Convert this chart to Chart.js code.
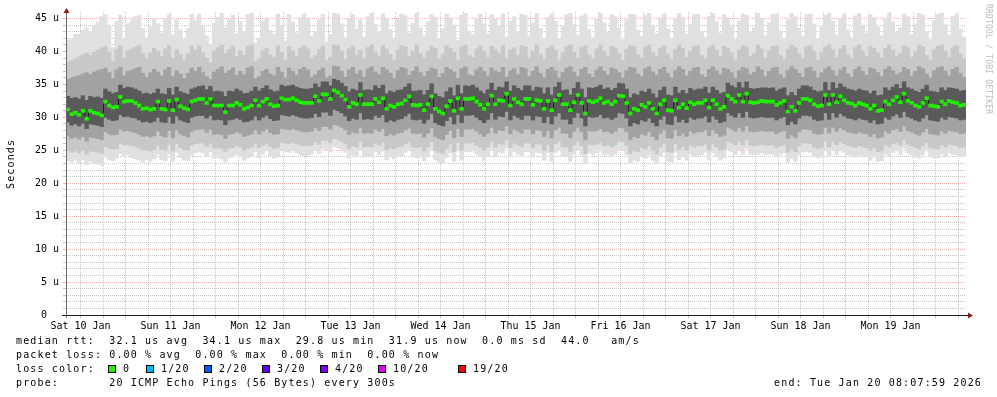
<!DOCTYPE html>
<html>
<head>
<meta charset="utf-8">
<script src="https://cdn.jsdelivr.net/npm/chart.js@4.4.0/dist/chart.umd.min.js"></script>
<style>
html, body { margin: 0; padding: 0; background: #fff; }
#wrap { position: relative; width: 997px; height: 397px; overflow: hidden; }
canvas { position: absolute; left: 0; top: 0; }
.t { position: absolute; font-family: "DejaVu Sans Mono", monospace; font-size: 10px; letter-spacing: 1.15px; line-height: 14px; white-space: pre; color: #000; }
.box { position: absolute; width: 6px; height: 6px; border: 1px solid #000; top: 365px; }
</style>
</head>
<body>
<div id="wrap">
  <canvas id="smoke" width="997" height="397"></canvas>
  <div class="t" style="left:4px;top:189px;transform:rotate(-90deg);transform-origin:0 0;">Seconds</div>
  <div class="t" style="left:993px;top:4px;transform:rotate(90deg);transform-origin:0 0;font-size:8px;letter-spacing:0.2px;line-height:9px;color:#bbb;">RRDTOOL / TOBI OETIKER</div>
  <div class="t" style="left:16px;top:334px">median rtt:  32.1 us avg  34.1 us max  29.8 us min  31.9 us now  0.0 ms sd  44.0   am/s</div>
  <div class="t" style="left:16px;top:348px">packet loss: 0.00 % avg  0.00 % max  0.00 % min  0.00 % now</div>
  <div class="t" style="left:16px;top:362px">loss color:</div>
  <div id="lossLegend"></div>
  <div class="t" style="left:16px;top:376px">probe:       20 ICMP Echo Pings (56 Bytes) every 300s</div>
  <div class="t" style="right:15px;top:376px">end: Tue Jan 20 08:07:59 2026</div>
</div>
<script>
// hourly columns, first one starts Sat 10 Jan 08:08
const medianRtt = [
  31.2, 30.5, 30.7, 30.4, 31.0, 29.8, 31.0, 30.7, 30.6, 30.3, 32.4, 31.8, 31.5, 31.6, 33.1, 32.4, 32.5, 32.5, 32.2, 31.8, 31.3, 31.4, 31.2, 31.3,
  32.4, 31.3, 31.2, 32.5, 31.1, 32.7, 31.7, 31.4, 31.2, 32.4, 32.6, 32.8, 32.8, 32.2, 32.8, 31.8, 31.8, 31.8, 30.8, 31.8, 31.8, 32.2, 31.9, 31.3,
  31.5, 31.8, 32.6, 31.8, 32.4, 32.8, 32.0, 31.7, 31.8, 32.9, 32.7, 32.7, 32.9, 32.6, 32.3, 32.2, 32.2, 32.2, 33.2, 32.5, 33.5, 33.5, 32.8, 34.1,
  33.8, 33.3, 32.7, 31.6, 32.2, 32.0, 33.4, 32.0, 32.0, 32.0, 32.8, 32.3, 32.9, 31.3, 31.8, 31.6, 32.0, 32.1, 32.6, 33.2, 31.9, 31.8, 31.9, 31.1,
  32.0, 33.2, 31.3, 30.9, 30.6, 31.7, 32.5, 31.0, 32.9, 31.3, 32.8, 32.8, 32.9, 32.4, 31.9, 31.3, 32.0, 33.3, 32.0, 32.6, 32.5, 33.6, 31.8, 32.8,
  32.3, 32.0, 32.8, 32.8, 31.9, 32.6, 32.5, 31.3, 32.5, 31.1, 32.6, 33.4, 32.0, 32.0, 31.1, 32.3, 33.4, 32.2, 30.6, 32.5, 32.3, 32.5, 32.9, 32.2,
  32.4, 32.0, 32.4, 33.3, 33.2, 32.2, 30.6, 31.3, 31.1, 31.9, 31.6, 32.2, 31.3, 30.6, 32.0, 32.6, 31.1, 31.0, 32.6, 31.5, 32.0, 31.4, 32.3, 32.0,
  32.2, 32.2, 32.6, 31.5, 32.6, 32.0, 31.3, 31.6, 33.3, 32.8, 32.4, 33.4, 32.4, 33.6, 32.3, 32.2, 32.3, 32.5, 32.4, 32.4, 32.4, 31.9, 32.2, 32.5,
  30.9, 31.6, 31.0, 32.2, 32.8, 32.8, 32.6, 32.0, 31.7, 31.8, 33.4, 32.0, 33.4, 32.3, 33.2, 32.6, 32.2, 32.1, 31.8, 32.2, 32.0, 31.8, 31.3, 31.8,
  31.0, 31.1, 32.4, 32.0, 32.6, 33.1, 32.3, 33.6, 32.5, 32.2, 31.8, 31.6, 32.2, 32.9, 31.8, 31.7, 31.6, 32.4, 32.0, 32.5, 32.3, 32.2, 31.8, 31.9
];

// smoke: slowest ping and three inner ping levels above the median
const smokeMax = [
  41.8, 41.8, 42.6, 42.6, 43.2, 43.6, 43.0, 43.9, 44.5, 45.3, 45.6, 44.0, 40.6, 44.6, 45.5, 42.0, 44.2, 44.8, 45.3, 45.5, 43.5, 42.1, 43.8, 45.0,
  44.2, 42.8, 45.0, 45.6, 42.5, 44.8, 43.3, 41.9, 43.5, 45.6, 44.7, 45.7, 43.8, 42.4, 41.0, 44.3, 45.2, 45.8, 43.6, 44.9, 45.5, 42.7, 44.6, 43.1,
  45.6, 45.8, 41.3, 42.0, 44.6, 45.1, 43.2, 42.6, 45.7, 43.9, 41.6, 45.6, 44.5, 42.8, 45.2, 45.7, 45.1, 42.3, 43.0, 44.8, 45.6, 41.5, 42.6, 45.8,
  45.7, 44.2, 42.1, 45.0, 45.6, 43.4, 44.8, 42.2, 45.3, 45.8, 44.1, 42.9, 45.7, 45.0, 43.3, 41.8, 44.9, 45.7, 45.4, 42.8, 44.3, 45.8, 43.6, 42.4,
  44.5, 45.6, 45.2, 42.0, 43.5, 45.7, 45.1, 44.0, 41.7, 45.5, 45.8, 43.1, 42.6, 45.0, 45.7, 44.2, 42.7, 45.6, 44.9, 43.8, 45.7, 42.2, 44.6, 45.3,
  43.0, 45.7, 45.5, 42.4, 44.3, 45.8, 43.5, 42.0, 45.2, 45.7, 44.6, 41.9, 43.8, 45.6, 45.8, 44.0, 42.5, 45.4, 45.7, 43.3, 42.1, 45.0, 45.8, 44.4,
  42.9, 45.6, 45.3, 43.6, 41.8, 44.8, 45.7, 45.6, 43.2, 42.3, 45.5, 45.8, 44.0, 42.7, 45.1, 45.7, 43.4, 41.9, 44.9, 45.8, 45.2, 42.6, 44.1, 45.6,
  45.7, 43.0, 42.2, 45.3, 45.8, 44.5, 42.8, 45.6, 45.1, 43.7, 41.8, 44.7, 45.7, 45.5, 42.9, 43.6, 45.8, 45.0, 42.4, 44.4, 45.6, 45.7, 43.1, 42.0,
  44.8, 45.8, 45.3, 43.5, 42.3, 45.6, 45.7, 44.2, 41.9, 43.8, 45.5, 45.8, 44.6, 42.5, 45.0, 45.7, 43.3, 42.1, 45.4, 45.8, 44.0, 42.8, 45.6, 45.2,
  43.7, 42.4, 45.1, 45.8, 44.5, 42.9, 43.6, 45.7, 45.3, 42.6, 44.2, 45.8, 45.5, 43.0, 41.8, 44.7, 45.6, 45.8, 44.1, 42.5, 45.3, 45.7, 43.4, 42.2
];
const smokeHi2 = [
  38.4, 38.6, 38.9, 39.2, 39.5, 39.8, 39.4, 39.9, 40.2, 40.6, 40.8, 39.9, 38.5, 40.3, 40.9, 39.0, 40.1, 40.4, 40.7, 40.9, 39.7, 38.9, 39.8, 40.5,
  40.0, 39.2, 40.4, 40.9, 39.0, 40.3, 39.6, 38.6, 39.7, 40.8, 40.2, 40.9, 39.8, 39.0, 38.3, 40.0, 40.6, 41.0, 39.7, 40.3, 40.8, 39.2, 40.1, 39.4,
  40.8, 41.0, 38.5, 38.9, 40.1, 40.5, 39.5, 39.1, 40.9, 39.9, 38.7, 40.8, 40.1, 39.2, 40.5, 40.9, 40.4, 38.9, 39.4, 40.3, 40.8, 38.6, 39.1, 41.0,
  40.9, 40.0, 38.8, 40.4, 40.8, 39.5, 40.2, 38.9, 40.6, 41.0, 39.9, 39.3, 40.9, 40.4, 39.6, 38.6, 40.3, 40.9, 40.7, 39.2, 40.0, 41.0, 39.7, 39.0,
  40.1, 40.8, 40.5, 38.8, 39.6, 40.9, 40.5, 39.9, 38.6, 40.7, 41.0, 39.4, 39.1, 40.4, 40.9, 40.0, 39.1, 40.8, 40.3, 39.8, 40.9, 38.9, 40.2, 40.6,
  39.4, 40.9, 40.7, 39.0, 40.0, 41.0, 39.6, 38.8, 40.5, 40.9, 40.2, 38.7, 39.8, 40.8, 41.0, 39.9, 39.0, 40.6, 40.9, 39.5, 38.9, 40.4, 41.0, 40.1,
  39.3, 40.8, 40.6, 39.7, 38.7, 40.3, 40.9, 40.8, 39.5, 39.0, 40.7, 41.0, 39.9, 39.2, 40.5, 40.9, 39.6, 38.8, 40.3, 41.0, 40.5, 39.1, 40.0, 40.8,
  40.9, 39.4, 38.9, 40.6, 41.0, 40.2, 39.3, 40.8, 40.5, 39.8, 38.7, 40.2, 40.9, 40.7, 39.3, 39.7, 41.0, 40.4, 39.0, 40.1, 40.8, 40.9, 39.4, 38.8,
  40.3, 41.0, 40.6, 39.6, 38.9, 40.8, 40.9, 40.0, 38.7, 39.8, 40.7, 41.0, 40.2, 39.1, 40.4, 40.9, 39.5, 38.9, 40.6, 41.0, 40.0, 39.2, 40.8, 40.5,
  39.8, 39.0, 40.5, 41.0, 40.2, 39.3, 39.7, 40.9, 40.6, 39.1, 40.0, 41.0, 40.7, 39.4, 38.7, 40.3, 40.8, 41.0, 40.0, 39.1, 40.6, 40.9, 39.6, 38.9
];
const smokeHi3 = [
  35.8, 36.0, 36.2, 36.3, 36.6, 36.8, 36.5, 36.9, 37.1, 37.3, 37.5, 36.8, 35.9, 37.2, 37.6, 36.3, 37.0, 37.2, 37.4, 37.6, 36.7, 36.1, 36.8, 37.3,
  36.9, 36.3, 37.2, 37.6, 36.2, 37.1, 36.6, 35.9, 36.7, 37.5, 37.0, 37.6, 36.8, 36.2, 35.8, 36.9, 37.3, 37.7, 36.7, 37.1, 37.5, 36.4, 37.0, 36.5,
  37.5, 37.7, 35.9, 36.2, 37.0, 37.3, 36.6, 36.3, 37.6, 36.9, 36.0, 37.5, 37.0, 36.4, 37.3, 37.6, 37.2, 36.1, 36.5, 37.1, 37.5, 36.0, 36.3, 37.8,
  37.7, 37.0, 36.1, 37.2, 37.6, 36.6, 37.1, 36.1, 37.4, 37.7, 36.9, 36.5, 37.6, 37.2, 36.7, 35.9, 37.1, 37.6, 37.4, 36.4, 37.0, 37.7, 36.8, 36.2,
  37.0, 37.5, 37.3, 36.1, 36.7, 37.6, 37.3, 36.9, 35.9, 37.4, 37.7, 36.5, 36.3, 37.2, 37.6, 37.0, 36.3, 37.5, 37.1, 36.8, 37.6, 36.1, 37.1, 37.4,
  36.5, 37.6, 37.4, 36.2, 37.0, 37.7, 36.7, 36.0, 37.3, 37.6, 37.1, 36.0, 36.8, 37.5, 37.7, 36.9, 36.2, 37.3, 37.6, 36.6, 36.1, 37.2, 37.7, 37.0,
  36.4, 37.5, 37.3, 36.8, 36.0, 37.1, 37.6, 37.5, 36.6, 36.2, 37.4, 37.7, 36.9, 36.4, 37.3, 37.6, 36.7, 36.0, 37.1, 37.7, 37.3, 36.3, 37.0, 37.5,
  37.6, 36.5, 36.1, 37.3, 37.7, 37.1, 36.5, 37.5, 37.3, 36.8, 36.0, 37.1, 37.6, 37.4, 36.5, 36.8, 37.7, 37.2, 36.2, 37.0, 37.5, 37.6, 36.5, 36.0,
  37.1, 37.7, 37.3, 36.7, 36.1, 37.5, 37.6, 37.0, 36.0, 36.8, 37.4, 37.7, 37.1, 36.3, 37.2, 37.6, 36.6, 36.1, 37.3, 37.7, 37.0, 36.4, 37.5, 37.3,
  36.8, 36.2, 37.3, 37.7, 37.1, 36.5, 36.8, 37.6, 37.3, 36.3, 37.0, 37.7, 37.4, 36.6, 36.0, 37.1, 37.5, 37.7, 37.0, 36.3, 37.3, 37.6, 36.7, 36.1
];
const smokeHi4 = [
  33.2, 32.9, 33.0, 32.8, 33.3, 32.6, 33.2, 33.0, 33.1, 32.9, 34.3, 33.9, 33.6, 33.8, 34.9, 34.4, 34.6, 34.5, 34.3, 34.0, 33.6, 33.7, 33.5, 33.7,
  34.3, 33.6, 33.5, 34.4, 33.4, 34.6, 33.9, 33.7, 33.5, 34.3, 34.5, 34.7, 34.8, 34.2, 34.7, 33.9, 34.0, 33.9, 33.2, 34.0, 33.9, 34.3, 34.0, 33.6,
  33.7, 34.0, 34.6, 34.0, 34.4, 34.8, 34.2, 33.9, 34.0, 34.9, 34.7, 34.8, 34.9, 34.6, 34.4, 34.3, 34.3, 34.4, 35.1, 34.6, 35.4, 35.4, 34.8, 35.8,
  35.6, 35.2, 34.7, 33.9, 34.3, 34.1, 35.3, 34.1, 34.2, 34.1, 34.8, 34.4, 34.9, 33.6, 34.0, 33.8, 34.1, 34.2, 34.6, 35.1, 34.0, 34.0, 34.1, 33.4,
  34.1, 35.1, 33.6, 33.2, 33.0, 33.9, 34.5, 33.3, 34.9, 33.6, 34.8, 34.7, 34.9, 34.5, 34.0, 33.6, 34.2, 35.2, 34.1, 34.6, 34.5, 35.4, 34.0, 34.8,
  34.4, 34.1, 34.8, 34.8, 34.0, 34.6, 34.5, 33.6, 34.5, 33.4, 34.6, 35.3, 34.1, 34.2, 33.4, 34.4, 35.3, 34.3, 33.0, 34.5, 34.4, 34.6, 34.9, 34.3,
  34.5, 34.1, 34.4, 35.2, 35.1, 34.3, 33.0, 33.6, 33.4, 34.0, 33.8, 34.3, 33.6, 33.0, 34.1, 34.6, 33.4, 33.3, 34.6, 33.7, 34.1, 33.6, 34.4, 34.1,
  34.3, 34.3, 34.6, 33.7, 34.6, 34.1, 33.6, 33.8, 35.2, 34.8, 34.5, 35.3, 34.5, 35.4, 34.4, 34.3, 34.4, 34.5, 34.5, 34.4, 34.5, 34.0, 34.3, 34.5,
  33.3, 33.8, 33.3, 34.3, 34.8, 34.8, 34.6, 34.1, 33.9, 34.0, 35.3, 34.1, 35.3, 34.4, 35.1, 34.6, 34.3, 34.2, 34.0, 34.3, 34.1, 34.0, 33.6, 34.0,
  33.3, 33.4, 34.5, 34.1, 34.6, 35.0, 34.4, 35.4, 34.5, 34.3, 34.0, 33.8, 34.3, 34.9, 34.0, 33.9, 33.8, 34.5, 34.1, 34.5, 34.4, 34.3, 34.0, 34.1
];

// smoke: three inner ping levels below the median and the fastest ping
const smokeLo4 = [
  29.3, 28.8, 29.0, 28.7, 29.1, 28.3, 29.0, 28.9, 28.8, 28.6, 30.0, 29.7, 29.5, 29.6, 30.4, 30.1, 30.2, 30.0, 29.9, 29.6, 29.3, 29.4, 29.2, 29.4,
  30.0, 29.3, 29.2, 30.1, 29.1, 30.2, 29.6, 29.4, 29.2, 30.0, 30.2, 30.3, 30.3, 29.9, 30.3, 29.6, 29.7, 29.6, 28.9, 29.6, 29.7, 29.9, 29.7, 29.3,
  29.4, 29.6, 30.2, 29.6, 30.0, 30.3, 29.8, 29.5, 29.6, 30.4, 30.3, 30.2, 30.4, 30.2, 30.0, 29.9, 29.9, 30.0, 30.6, 30.1, 30.8, 30.8, 30.3, 31.2,
  31.0, 30.7, 30.2, 29.5, 29.9, 29.7, 30.7, 29.7, 29.8, 29.7, 30.3, 30.0, 30.4, 29.3, 29.6, 29.4, 29.7, 29.8, 30.2, 30.6, 29.7, 29.6, 29.7, 29.1,
  29.7, 30.6, 29.2, 28.9, 28.7, 29.5, 30.1, 29.0, 30.4, 29.2, 30.3, 30.3, 30.4, 30.0, 29.6, 29.2, 29.7, 30.7, 29.7, 30.2, 30.1, 30.9, 29.6, 30.3,
  30.0, 29.7, 30.3, 30.3, 29.6, 30.2, 30.1, 29.2, 30.1, 29.0, 30.2, 30.7, 29.7, 29.7, 29.0, 30.0, 30.7, 29.9, 28.7, 30.1, 30.0, 30.1, 30.4, 29.9,
  30.0, 29.7, 30.0, 30.7, 30.6, 29.9, 28.7, 29.2, 29.0, 29.6, 29.4, 29.9, 29.2, 28.7, 29.7, 30.2, 29.0, 28.9, 30.2, 29.3, 29.7, 29.2, 30.0, 29.7,
  29.9, 29.9, 30.2, 29.3, 30.2, 29.7, 29.2, 29.4, 30.7, 30.3, 30.0, 30.7, 30.0, 30.9, 30.0, 29.9, 30.0, 30.1, 30.0, 30.0, 30.0, 29.6, 29.9, 30.1,
  28.9, 29.4, 29.0, 29.9, 30.3, 30.3, 30.2, 29.7, 29.5, 29.6, 30.7, 29.7, 30.7, 30.0, 30.6, 30.2, 29.9, 29.8, 29.6, 29.9, 29.7, 29.6, 29.2, 29.6,
  29.0, 29.1, 30.0, 29.7, 30.2, 30.5, 30.0, 30.9, 30.1, 29.9, 29.6, 29.4, 29.9, 30.4, 29.6, 29.5, 29.4, 30.0, 29.7, 30.1, 30.0, 29.9, 29.6, 29.7
];
const smokeLo3 = [
  27.2, 26.8, 27.0, 26.7, 27.1, 26.4, 27.0, 26.9, 26.8, 26.6, 27.8, 27.5, 27.3, 27.4, 28.2, 27.9, 28.0, 27.8, 27.7, 27.4, 27.1, 27.2, 27.0, 27.2,
  27.9, 27.2, 27.0, 28.0, 26.9, 28.1, 27.5, 27.2, 27.0, 27.9, 28.1, 28.2, 28.2, 27.7, 28.2, 27.4, 27.5, 27.4, 26.8, 27.4, 27.5, 27.8, 27.6, 27.1,
  27.3, 27.5, 28.1, 27.5, 27.9, 28.2, 27.7, 27.4, 27.5, 28.3, 28.2, 28.1, 28.3, 28.1, 27.9, 27.8, 27.8, 27.9, 28.4, 28.0, 28.6, 28.6, 28.2, 28.9,
  28.8, 28.5, 28.1, 27.4, 27.8, 27.6, 28.5, 27.6, 27.7, 27.6, 28.2, 27.9, 28.3, 27.2, 27.5, 27.3, 27.6, 27.7, 28.1, 28.4, 27.6, 27.5, 27.6, 27.0,
  27.6, 28.4, 27.1, 26.8, 26.6, 27.4, 28.0, 26.9, 28.3, 27.1, 28.2, 28.2, 28.3, 27.9, 27.5, 27.1, 27.6, 28.5, 27.6, 28.1, 28.0, 28.7, 27.5, 28.2,
  27.9, 27.6, 28.2, 28.2, 27.5, 28.1, 28.0, 27.1, 28.0, 26.9, 28.1, 28.5, 27.6, 27.6, 26.9, 27.9, 28.5, 27.8, 26.6, 28.0, 27.9, 28.0, 28.3, 27.8,
  27.9, 27.6, 27.9, 28.5, 28.4, 27.8, 26.6, 27.1, 26.9, 27.5, 27.3, 27.8, 27.1, 26.6, 27.6, 28.1, 26.9, 26.8, 28.1, 27.2, 27.6, 27.1, 27.9, 27.6,
  27.8, 27.8, 28.1, 27.2, 28.1, 27.6, 27.1, 27.3, 28.5, 28.2, 27.9, 28.5, 27.9, 28.7, 27.9, 27.8, 27.9, 28.0, 27.9, 27.9, 27.9, 27.5, 27.8, 28.0,
  26.8, 27.3, 26.9, 27.8, 28.2, 28.2, 28.1, 27.6, 27.4, 27.5, 28.5, 27.6, 28.5, 27.9, 28.4, 28.1, 27.8, 27.7, 27.5, 27.8, 27.6, 27.5, 27.1, 27.5,
  26.9, 27.0, 27.9, 27.6, 28.1, 28.3, 27.9, 28.7, 28.0, 27.8, 27.5, 27.3, 27.8, 28.3, 27.5, 27.4, 27.3, 27.9, 27.6, 28.0, 27.9, 27.8, 27.5, 27.6
];
const smokeLo2 = [
  25.0, 24.7, 24.9, 24.6, 25.0, 24.4, 24.9, 24.8, 24.7, 24.5, 25.6, 25.3, 25.2, 25.3, 26.1, 25.8, 25.9, 25.7, 25.6, 25.3, 25.0, 25.1, 24.9, 25.1,
  25.8, 25.1, 25.0, 25.9, 24.9, 26.0, 25.4, 25.1, 25.0, 25.8, 26.0, 26.1, 26.1, 25.6, 26.1, 25.3, 25.4, 25.3, 24.8, 25.3, 25.4, 25.7, 25.5, 25.0,
  25.3, 25.5, 26.1, 25.4, 25.8, 26.1, 25.6, 25.3, 25.4, 26.2, 26.1, 26.0, 26.2, 26.0, 25.8, 25.7, 25.7, 25.8, 26.3, 25.9, 26.5, 26.5, 26.1, 26.8,
  26.7, 26.4, 26.0, 25.3, 25.7, 25.5, 26.4, 25.5, 25.6, 25.5, 26.1, 25.8, 26.2, 25.1, 25.4, 25.2, 25.5, 25.6, 26.0, 26.3, 25.5, 25.4, 25.5, 24.9,
  25.5, 26.3, 25.0, 24.7, 24.5, 25.3, 25.9, 24.8, 26.2, 25.0, 26.1, 26.1, 26.2, 25.8, 25.4, 25.0, 25.5, 26.4, 25.5, 26.0, 25.9, 26.6, 25.4, 26.1,
  25.8, 25.5, 26.1, 26.1, 25.4, 26.0, 25.9, 25.0, 25.9, 24.8, 26.0, 26.4, 25.5, 25.5, 24.8, 25.8, 26.4, 25.7, 24.5, 25.9, 25.8, 25.9, 26.2, 25.7,
  25.8, 25.5, 25.8, 26.4, 26.3, 25.7, 24.5, 25.0, 24.8, 25.4, 25.2, 25.7, 25.0, 24.5, 25.5, 26.0, 24.8, 24.7, 26.0, 25.1, 25.5, 25.0, 25.8, 25.5,
  25.7, 25.7, 26.0, 25.1, 26.0, 25.5, 25.0, 25.2, 26.4, 26.1, 25.8, 26.4, 25.8, 26.6, 25.8, 25.7, 25.8, 25.9, 25.8, 25.8, 25.8, 25.4, 25.7, 25.9,
  24.7, 25.2, 24.8, 25.7, 26.1, 26.1, 26.0, 25.5, 25.3, 25.4, 26.4, 25.5, 26.4, 25.8, 26.3, 26.0, 25.7, 25.6, 25.4, 25.7, 25.5, 25.4, 25.0, 25.4,
  24.8, 24.9, 25.8, 25.5, 26.0, 26.2, 25.8, 26.6, 25.9, 25.7, 25.4, 25.2, 25.7, 26.2, 25.4, 25.3, 25.2, 25.8, 25.5, 25.9, 25.8, 25.7, 25.4, 25.5
];
const smokeMin = [
  23.4, 23.2, 23.5, 23.1, 23.6, 22.8, 23.3, 23.0, 22.9, 22.7, 24.0, 23.6, 23.4, 23.8, 24.5, 24.0, 24.3, 23.9, 23.7, 23.5, 23.2, 23.6, 23.3, 23.7,
  24.4, 23.6, 23.4, 24.5, 23.3, 24.7, 23.9, 23.5, 23.4, 24.3, 24.6, 24.8, 24.6, 24.1, 24.8, 23.8, 23.9, 23.7, 23.2, 23.9, 24.0, 24.3, 24.0, 23.5,
  23.8, 24.1, 24.8, 23.9, 24.4, 24.9, 24.2, 23.8, 24.0, 25.0, 24.8, 24.7, 25.0, 24.6, 24.3, 24.2, 24.2, 24.4, 25.0, 24.5, 25.2, 25.1, 24.8, 25.5,
  25.4, 25.1, 24.7, 23.8, 24.3, 24.1, 25.0, 24.0, 24.2, 24.0, 24.8, 24.4, 24.9, 23.6, 24.0, 23.7, 24.1, 24.2, 24.7, 25.0, 24.0, 23.9, 24.0, 23.4,
  24.1, 25.0, 23.6, 23.2, 23.0, 23.9, 24.6, 23.3, 24.9, 23.5, 24.8, 24.8, 24.9, 24.4, 24.0, 23.5, 24.1, 25.1, 24.0, 24.7, 24.6, 25.3, 24.0, 24.8,
  24.4, 24.1, 24.8, 24.8, 24.0, 24.7, 24.6, 23.5, 24.6, 23.3, 24.7, 25.1, 24.1, 24.1, 23.3, 24.4, 25.1, 24.3, 23.0, 24.6, 24.4, 24.6, 24.9, 24.3,
  24.4, 24.1, 24.4, 25.1, 25.0, 24.3, 23.0, 23.5, 23.3, 24.0, 23.8, 24.3, 23.5, 23.0, 24.1, 24.7, 23.3, 23.2, 24.7, 23.6, 24.1, 23.5, 24.4, 24.1,
  24.3, 24.3, 24.7, 23.6, 24.7, 24.1, 23.5, 23.8, 25.1, 24.8, 24.4, 25.1, 24.4, 25.3, 24.4, 24.3, 24.4, 24.6, 24.4, 24.4, 24.4, 24.0, 24.3, 24.6,
  23.2, 23.8, 23.3, 24.3, 24.8, 24.8, 24.7, 24.1, 23.9, 24.0, 25.1, 24.1, 25.1, 24.4, 25.0, 24.7, 24.3, 24.2, 24.0, 24.3, 24.1, 24.0, 23.5, 24.0,
  23.3, 23.4, 24.4, 24.1, 24.7, 24.9, 24.4, 25.3, 24.6, 24.3, 24.0, 23.8, 24.3, 24.9, 24.0, 23.9, 23.8, 24.4, 24.1, 24.6, 24.4, 24.3, 24.0, 24.1
];

const dayLabels = ['Sat 10 Jan', 'Sun 11 Jan', 'Mon 12 Jan', 'Tue 13 Jan', 'Wed 14 Jan',
                   'Thu 15 Jan', 'Fri 16 Jan', 'Sat 17 Jan', 'Sun 18 Jan', 'Mon 19 Jan'];
const lossLabels = ['0', '1/20', '2/20', '3/20', '4/20', '10/20', '19/20'];
const lossColors = ['#20f000', '#00b8ff', '#0059ff', '#5e00ff', '#7e00ff', '#dd00ff', '#ff0000'];

// legend row with loss colours
const lossLeft = [108, 146, 204, 262, 320, 378, 458];
let legendHtml = '';
lossLabels.forEach((lbl, i) => {
    legendHtml += '<span class="box" style="left:' + lossLeft[i] + 'px;background:' + lossColors[i] + '"></span>';
    legendHtml += '<span class="t" style="left:' + (lossLeft[i] + 15) + 'px;top:362px">' + lbl + '</span>';
});
document.getElementById('lossLegend').innerHTML = legendHtml;

const colX = medianRtt.map((v, i) => i + 0.5);
const band = (lo, hi) => colX.map((x, i) => ({x: x, y: [lo[i], hi[i]]}));
const halfBox = 0.23;

const smokeSet = (lo, hi, color) => ({
    type: 'bar',
    data: band(lo, hi),
    backgroundColor: color,
    borderWidth: 0,
    grouped: false,
    barPercentage: 1,
    categoryPercentage: 1
});

// first hour column starts 08:08, so noon Sat 10 Jan is 3.87 h in
const noonOffset = 3.867;
const xTicks = [];
for (let t = noonOffset; t < 240; t += 6) xTicks.push(t);

const gridGray = 'rgba(140,140,140,0.5)';
const gridRed = 'rgba(222,79,79,0.45)';

Chart.defaults.font.family = '"DejaVu Sans Mono", monospace';
Chart.defaults.font.size = 10;
Chart.defaults.color = '#000';

const axesPlugin = {
    id: 'rrdAxes',
    afterDraw(chart) {
        const {ctx, chartArea: a} = chart;
        ctx.save();
        ctx.lineWidth = 1;
        ctx.strokeStyle = '#6a6a6a';
        ctx.beginPath();
        ctx.moveTo(a.left + 0.5, a.bottom + 3);
        ctx.lineTo(a.left + 0.5, a.top - 1);
        ctx.stroke();
        ctx.strokeStyle = '#1f1f1f';
        ctx.beginPath();
        ctx.moveTo(a.left - 4, a.bottom + 0.5);
        ctx.lineTo(a.right + 3, a.bottom + 0.5);
        ctx.stroke();
        ctx.fillStyle = '#8c1c1c';
        ctx.beginPath();
        ctx.moveTo(a.left - 2.5, a.top + 1);
        ctx.lineTo(a.left + 3.5, a.top + 1);
        ctx.lineTo(a.left + 0.5, a.top - 4);
        ctx.closePath();
        ctx.fill();
        ctx.beginPath();
        ctx.moveTo(a.right + 2, a.bottom - 2.5);
        ctx.lineTo(a.right + 2, a.bottom + 3.5);
        ctx.lineTo(a.right + 7, a.bottom + 0.5);
        ctx.closePath();
        ctx.fill();
        ctx.restore();
    }
};

new Chart(document.getElementById('smoke'), {
    type: 'bar',
    data: {
        datasets: [
            {
                type: 'bar',
                data: colX.map((x, i) => ({x: x, y: [medianRtt[i] - halfBox, medianRtt[i] + halfBox]})),
                backgroundColor: lossColors[0],
                borderWidth: 0,
                grouped: false,
                barPercentage: 1,
                categoryPercentage: 1
            },
            {
                type: 'line',
                data: colX.map((x, i) => ({x: x, y: medianRtt[i]})),
                borderColor: '#202020',
                borderWidth: 1,
                pointRadius: 0,
                stepped: 'middle',
                fill: false
            },
            smokeSet(smokeLo4, smokeHi4, '#5a5a5a'),
            smokeSet(smokeLo3, smokeHi3, '#a2a2a2'),
            smokeSet(smokeLo2, smokeHi2, '#c8c8c8'),
            smokeSet(smokeMin, smokeMax, '#e0e0e0')
        ]
    },
    options: {
        responsive: false,
        maintainAspectRatio: false,
        animation: false,
        devicePixelRatio: 1,
        layout: {padding: {left: 0, right: 31, top: 12, bottom: 62}},
        plugins: {legend: {display: false}, tooltip: {enabled: false}},
        scales: {
            x: {
                type: 'linear',
                min: 0,
                max: 240,
                offset: false,
                z: 1,
                afterFit: (s) => { s.height = 20; },
                afterBuildTicks: (s) => { s.ticks = xTicks.map(v => ({value: v})); },
                border: {display: false, dash: [1, 1]},
                grid: {
                    offset: false,
                    color: (c) => (c.index % 4 === 2 ? gridRed : gridGray),
                    tickColor: (c) => (c.index % 4 === 2 ? gridRed : gridGray),
                    tickLength: 3
                },
                ticks: {
                    autoSkip: false,
                    maxRotation: 0,
                    minRotation: 0,
                    padding: 2,
                    callback: (v, i) => (i % 4 === 0 ? dayLabels[i / 4] : '')
                }
            },
            y: {
                type: 'linear',
                min: 0,
                max: 46,
                z: 1,
                afterFit: (s) => { s.width = 66; },
                afterBuildTicks: (s) => {
                    const t = [];
                    for (let v = 0; v <= 45; v++) t.push({value: v});
                    s.ticks = t;
                },
                border: {display: false, dash: [1, 1]},
                grid: {
                    color: (c) => (c.tick.value === 0 ? 'rgba(0,0,0,0)' : (c.tick.value % 5 === 0 ? gridRed : gridGray)),
                    tickColor: (c) => (c.tick.value % 5 === 0 ? gridRed : gridGray),
                    tickLength: 3
                },
                ticks: {
                    autoSkip: false,
                    padding: 4,
                    callback: (v) => (v % 5 !== 0 ? '' : (v === 0 ? '0  ' : v + ' u'))
                }
            }
        }
    },
    plugins: [axesPlugin]
});
</script>
</body>
</html>
